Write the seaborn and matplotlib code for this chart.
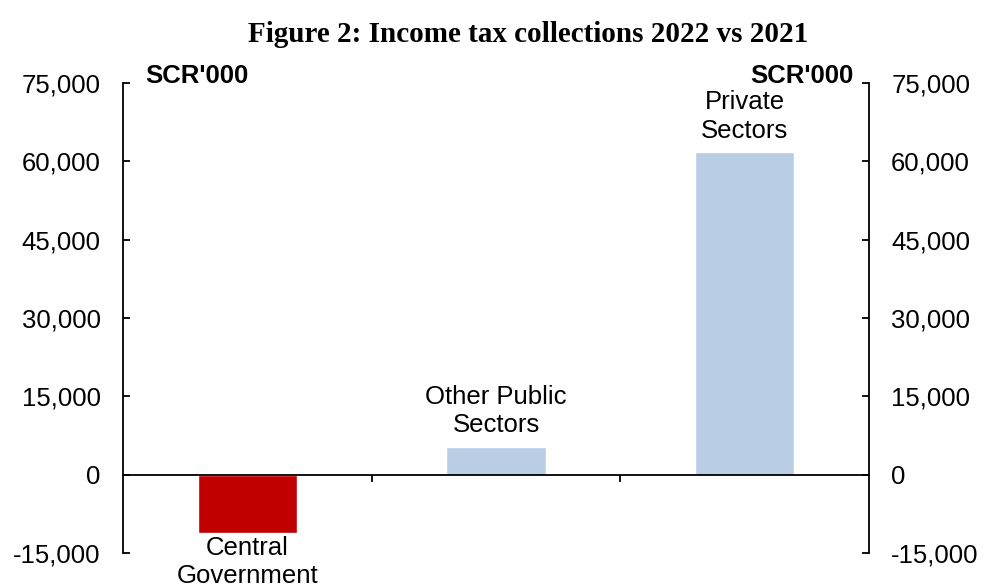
import matplotlib
matplotlib.use("Agg")
import matplotlib.pyplot as plt
from matplotlib.ticker import FixedLocator, FuncFormatter
import seaborn as sns
import pandas as pd

# Change in income tax collections, 2022 vs 2021 (SCR'000)
categories = ["Central\nGovernment", "Other Public\nSectors", "Private\nSectors"]
values = [-11200, 5300, 61700]
bar_colors = ["#C00000", "#B9CDE5", "#B9CDE5"]
y_ticks = [-15000, 0, 15000, 30000, 45000, 60000, 75000]
title = "Figure 2: Income tax collections 2022 vs 2021"
unit = "SCR'000"

sns.set_theme(style="white")
plt.rcParams["font.family"] = ["Liberation Sans", "DejaVu Sans"]
plt.rcParams["text.color"] = "black"
plt.rcParams["ytick.color"] = "black"
plt.rcParams["xtick.color"] = "black"

df = pd.DataFrame({"sector": categories, "change": values})

fig = plt.figure(figsize=(9.85, 5.86), dpi=100)
ax = fig.add_axes([0.1249, 0.0563, 0.7573, 0.8021])

sns.barplot(data=df, x="sector", y="change", hue="sector", palette=bar_colors,
            width=0.4, saturation=1, legend=False, ax=ax)

ax.set_ylim(y_ticks[0], y_ticks[-1])
ax.set_xlim(-0.5, len(categories) - 0.5)
ax.set_xlabel("")
ax.set_ylabel("")

# Y axis on both sides, inward ticks, thousands separators
ax.yaxis.set_major_locator(FixedLocator(y_ticks))
ax.yaxis.set_major_formatter(FuncFormatter(lambda v, p: f"{int(v):,}"))
ax.tick_params(axis="y", which="major", left=True, right=True,
               labelleft=True, labelright=True, direction="in",
               length=5, width=1.3, color="black", labelcolor="black",
               labelsize=18.5, pad=16)

# Category axis along zero with separators between groups
ax.spines["top"].set_visible(False)
for side in ("left", "right", "bottom"):
    ax.spines[side].set_color("black")
    ax.spines[side].set_linewidth(1.3)
ax.spines["bottom"].set_position(("data", 0))
ax.xaxis.set_major_locator(FixedLocator([0.5, 1.5]))
ax.tick_params(axis="x", which="major", bottom=True, labelbottom=False,
               direction="out", length=5, width=1.3, color="black")

# Category names next to each bar
for i, (name, val) in enumerate(zip(categories, values)):
    if val < 0:
        ax.annotate(name, xy=(i, val), xytext=(0, -2), textcoords="offset points",
                    ha="center", va="top", fontsize=18.5, linespacing=1.2,
                    color="black")
    else:
        ax.annotate(name, xy=(i, val), xytext=(0, 7), textcoords="offset points",
                    ha="center", va="bottom", fontsize=18.5, linespacing=1.25,
                    color="black")

# Unit labels at the top of both axes
ax.text(0.0295, 1.0, unit, transform=ax.transAxes, ha="left", va="baseline",
        fontsize=18.5, fontweight="bold", color="black")
ax.text(0.9786, 1.0, unit, transform=ax.transAxes, ha="right", va="baseline",
        fontsize=18.5, fontweight="bold", color="black")

fig.text(0.536, 0.928, title, ha="center", va="baseline", fontsize=21,
         fontweight="bold", color="black",
         family=["Liberation Serif", "DejaVu Serif"])

fig.savefig("out.png", dpi=100, facecolor="white")
